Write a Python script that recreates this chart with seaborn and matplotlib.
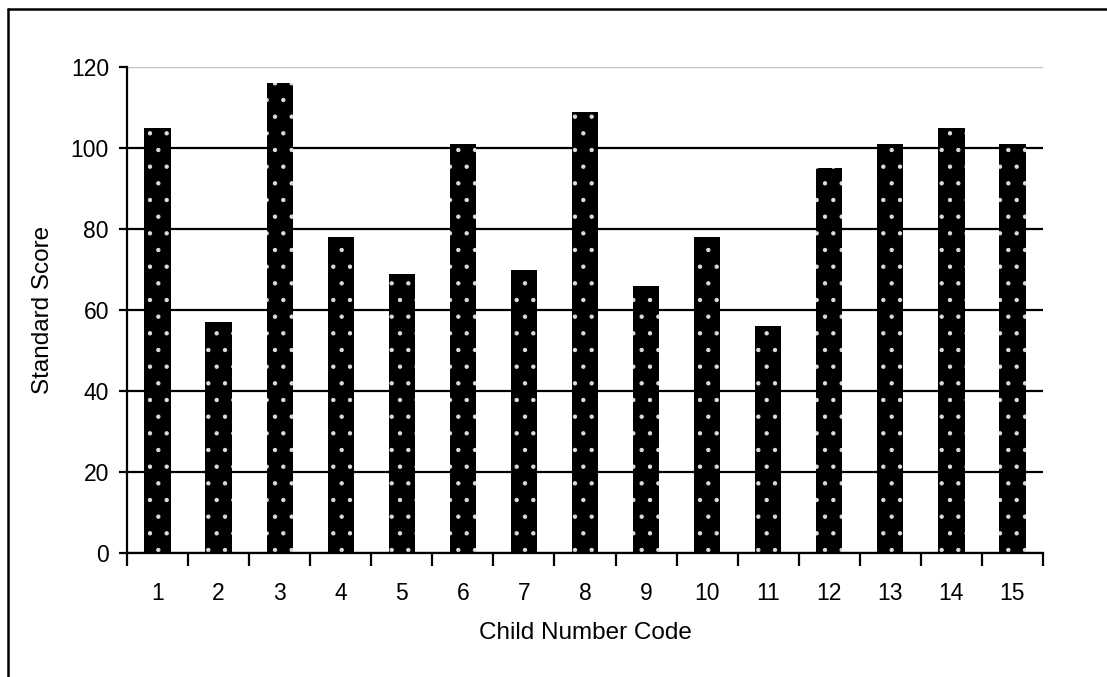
import matplotlib
matplotlib.use("Agg")
import matplotlib.pyplot as plt
from matplotlib.lines import Line2D
import seaborn as sns
import pandas as pd

# Standard score per child
child_codes = [str(i) for i in range(1, 16)]
standard_scores = [105, 57, 116, 78, 69, 101, 70, 109, 66, 78, 56, 95, 101, 105, 101]
y_ticks = [0, 20, 40, 60, 80, 100, 120]

df = pd.DataFrame({"Child Number Code": child_codes, "Standard Score": standard_scores})

sns.set_theme(style="white")
plt.rcParams["font.family"] = ["Liberation Sans", "DejaVu Sans"]
plt.rcParams["hatch.linewidth"] = 0.7

W, H, DPI = 1107, 677, 100
fig = plt.figure(figsize=(W / DPI, H / DPI), dpi=DPI)
ax = fig.add_axes([127 / W, 1 - 553 / H, (1043 - 127) / W, (553 - 67) / H])

sns.barplot(data=df, x="Child Number Code", y="Standard Score", ax=ax,
            color="black", saturation=1, width=0.43, hatch=".",
            edgecolor="#dddddd", linewidth=0, errorbar=None)

ax.set_xlim(-0.5, len(child_codes) - 0.5)
ax.set_ylim(0, 120)
ax.set_yticks(y_ticks)
ax.set_axisbelow(True)

# horizontal gridlines: black, top one light grey
ax.yaxis.grid(True, color="black", linewidth=1.6)
ax.xaxis.grid(False)
grid_lines = ax.get_ygridlines()
grid_lines[-1].set_color("#c0c0c0")
grid_lines[-1].set_linewidth(1.0)

for side in ["top", "right"]:
    ax.spines[side].set_visible(False)
for side in ["left", "bottom"]:
    ax.spines[side].set_color("black")
    ax.spines[side].set_linewidth(1.6)

# x tick marks sit between categories
ax.set_xticks([i - 0.5 for i in range(len(child_codes) + 1)], minor=True)
ax.tick_params(axis="x", which="major", length=0, pad=21, labelsize=16.5, colors="black")
ax.tick_params(axis="x", which="minor", bottom=True, length=9, width=1.6,
               direction="out", color="black")
ax.tick_params(axis="y", which="major", left=True, length=6, width=1.6,
               direction="out", color="black", labelsize=16.5, pad=7, labelcolor="black")

ax.set_xlabel("Child Number Code", fontsize=17.5, color="black", labelpad=12)
ax.set_ylabel("Standard Score", fontsize=17.5, color="black", labelpad=12)

# outer frame of the chart area
fig.add_artist(Line2D([8 / W, 1.0], [1 - 9 / H, 1 - 9 / H], color="black",
                      linewidth=1.8, transform=fig.transFigure))
fig.add_artist(Line2D([8 / W, 8 / W], [0.0, 1 - 9 / H], color="black",
                      linewidth=1.8, transform=fig.transFigure))

fig.savefig("out.png", dpi=DPI, facecolor="white")
